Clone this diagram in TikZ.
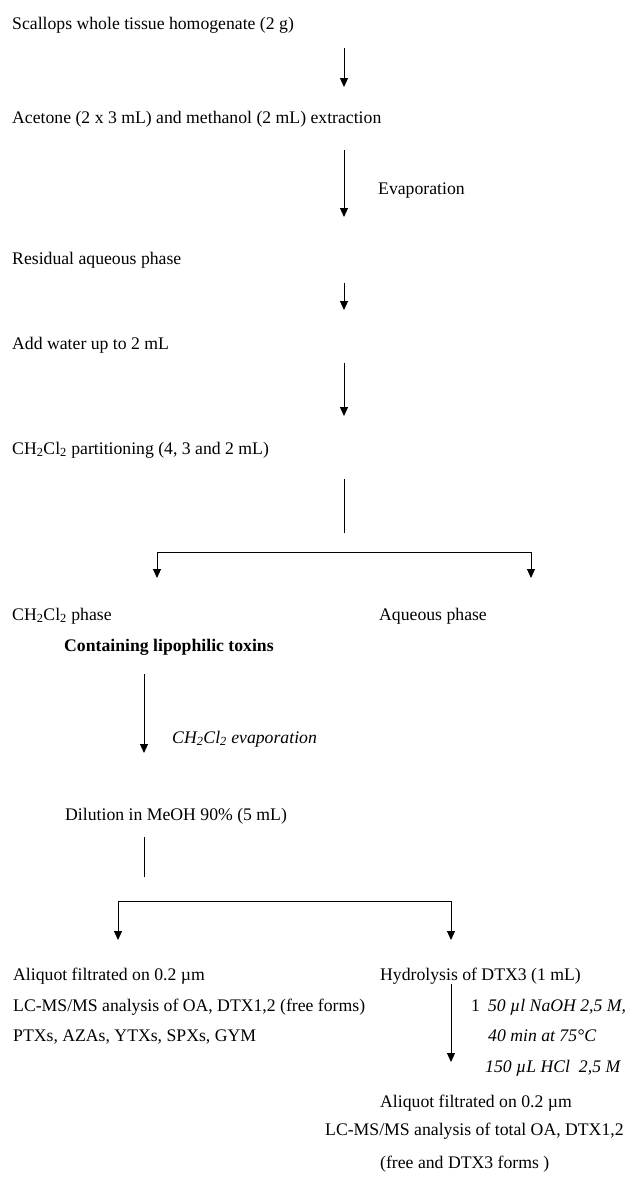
\documentclass[tikz,border=0pt]{standalone}
\usepackage{fontspec}
\setmainfont{Liberation Serif}
\usetikzlibrary{arrows.meta}
\begin{document}
\begin{tikzpicture}[x=1pt,y=-1pt,
  txt/.style={anchor=base west, inner sep=0pt, font=\fontsize{17.7}{21}\selectfont},
  arr/.style={-{Triangle[length=9pt,width=8pt]}, line width=1pt},
  ln/.style={line width=1pt}]
\useasboundingbox[fill=white] (0,0) rectangle (633,1179);
% texts
\node[txt] (t1) at (12,29) {Scallops whole tissue homogenate (2 g)};
\node[txt] (t2) at (12,123) {Acetone (2 x 3 mL) and methanol (2 mL) extraction};
\node[txt] (evap) at (378,194) {Evaporation};
\node[txt] (t3) at (12,264) {Residual aqueous phase};
\node[txt] (t4) at (12,349) {Add water up to 2 mL};
\node[txt] (t5) at (12,454) {CH\textsubscript{2}Cl\textsubscript{2} partitioning (4, 3 and 2 mL)};
\node[txt] (t6) at (12,620) {CH\textsubscript{2}Cl\textsubscript{2} phase};
\node[txt] (t7) at (379,620) {Aqueous phase};
\node[txt,font=\fontsize{17.7}{21}\selectfont\bfseries] (t8) at (64,651) {Containing lipophilic toxins};
\node[txt,font=\fontsize{17.7}{21}\selectfont\itshape] (cev) at (172,743) {CH\textsubscript{2}Cl\textsubscript{2} evaporation};
\node[txt] (t9) at (65,820) {Dilution in MeOH 90\% (5 mL)};
\node[txt] (l1) at (13,980) {Aliquot filtrated on 0.2 µm};
\node[txt] (l2) at (13,1011) {LC-MS/MS analysis of OA, DTX1,2 (free forms)};
\node[txt] (l3) at (13,1041) {PTXs, AZAs, YTXs, SPXs, GYM};
\node[txt] (r1) at (380,980) {Hydrolysis of DTX3 (1 mL)};
\node[txt] (c1) at (471,1011) {1\hspace{8pt}\textit{50 µl NaOH 2,5 M,}};
\node[txt,font=\fontsize{17.7}{21}\selectfont\itshape] (c2) at (488,1041) {40 min at 75°C};
\node[txt,font=\fontsize{17.7}{21}\selectfont\itshape] (c3) at (485,1072) {150 µL HCl\ \ 2,5 M};
\node[txt] (r2) at (380,1107) {Aliquot filtrated on 0.2 µm};
\node[txt] (r3) at (325,1135) {LC-MS/MS analysis of total OA, DTX1,2};
\node[txt] (r4) at (380,1168) {(free and DTX3 forms )};
% connector end points
\coordinate (a1s) at (344,48);  \coordinate (a1e) at (344,87);
\coordinate (a2s) at (344,150); \coordinate (a2e) at (344,217);
\coordinate (a3s) at (344,283); \coordinate (a3e) at (344,310);
\coordinate (a4s) at (344,363); \coordinate (a4e) at (344,416);
\coordinate (a5s) at (344,479); \coordinate (a5e) at (344,533);
\coordinate (h1c) at (344,552);
\coordinate (h1l) at (157,578); \coordinate (h1r) at (531,578);
\coordinate (a6s) at (144,674); \coordinate (a6e) at (144,753);
\coordinate (a7s) at (144,837); \coordinate (a7e) at (144,877);
\coordinate (h2c) at (284,901);
\coordinate (h2l) at (118,940); \coordinate (h2r) at (451,940);
\coordinate (a8s) at (451,984); \coordinate (a8e) at (451,1062);
% connectors
\draw[arr] (a1s) -- (a1e);
\draw[arr] (a2s) -- (a2e);
\draw[arr] (a3s) -- (a3e);
\draw[arr] (a4s) -- (a4e);
\draw[ln] (a5s) -- (a5e);
\draw[arr] (h1c) -| (h1l);
\draw[arr] (h1c) -| (h1r);
\draw[arr] (a6s) -- (a6e);
\draw[ln] (a7s) -- (a7e);
\draw[arr] (h2c) -| (h2l);
\draw[arr] (h2c) -| (h2r);
\draw[arr] (a8s) -- (a8e);
\end{tikzpicture}
\end{document}
